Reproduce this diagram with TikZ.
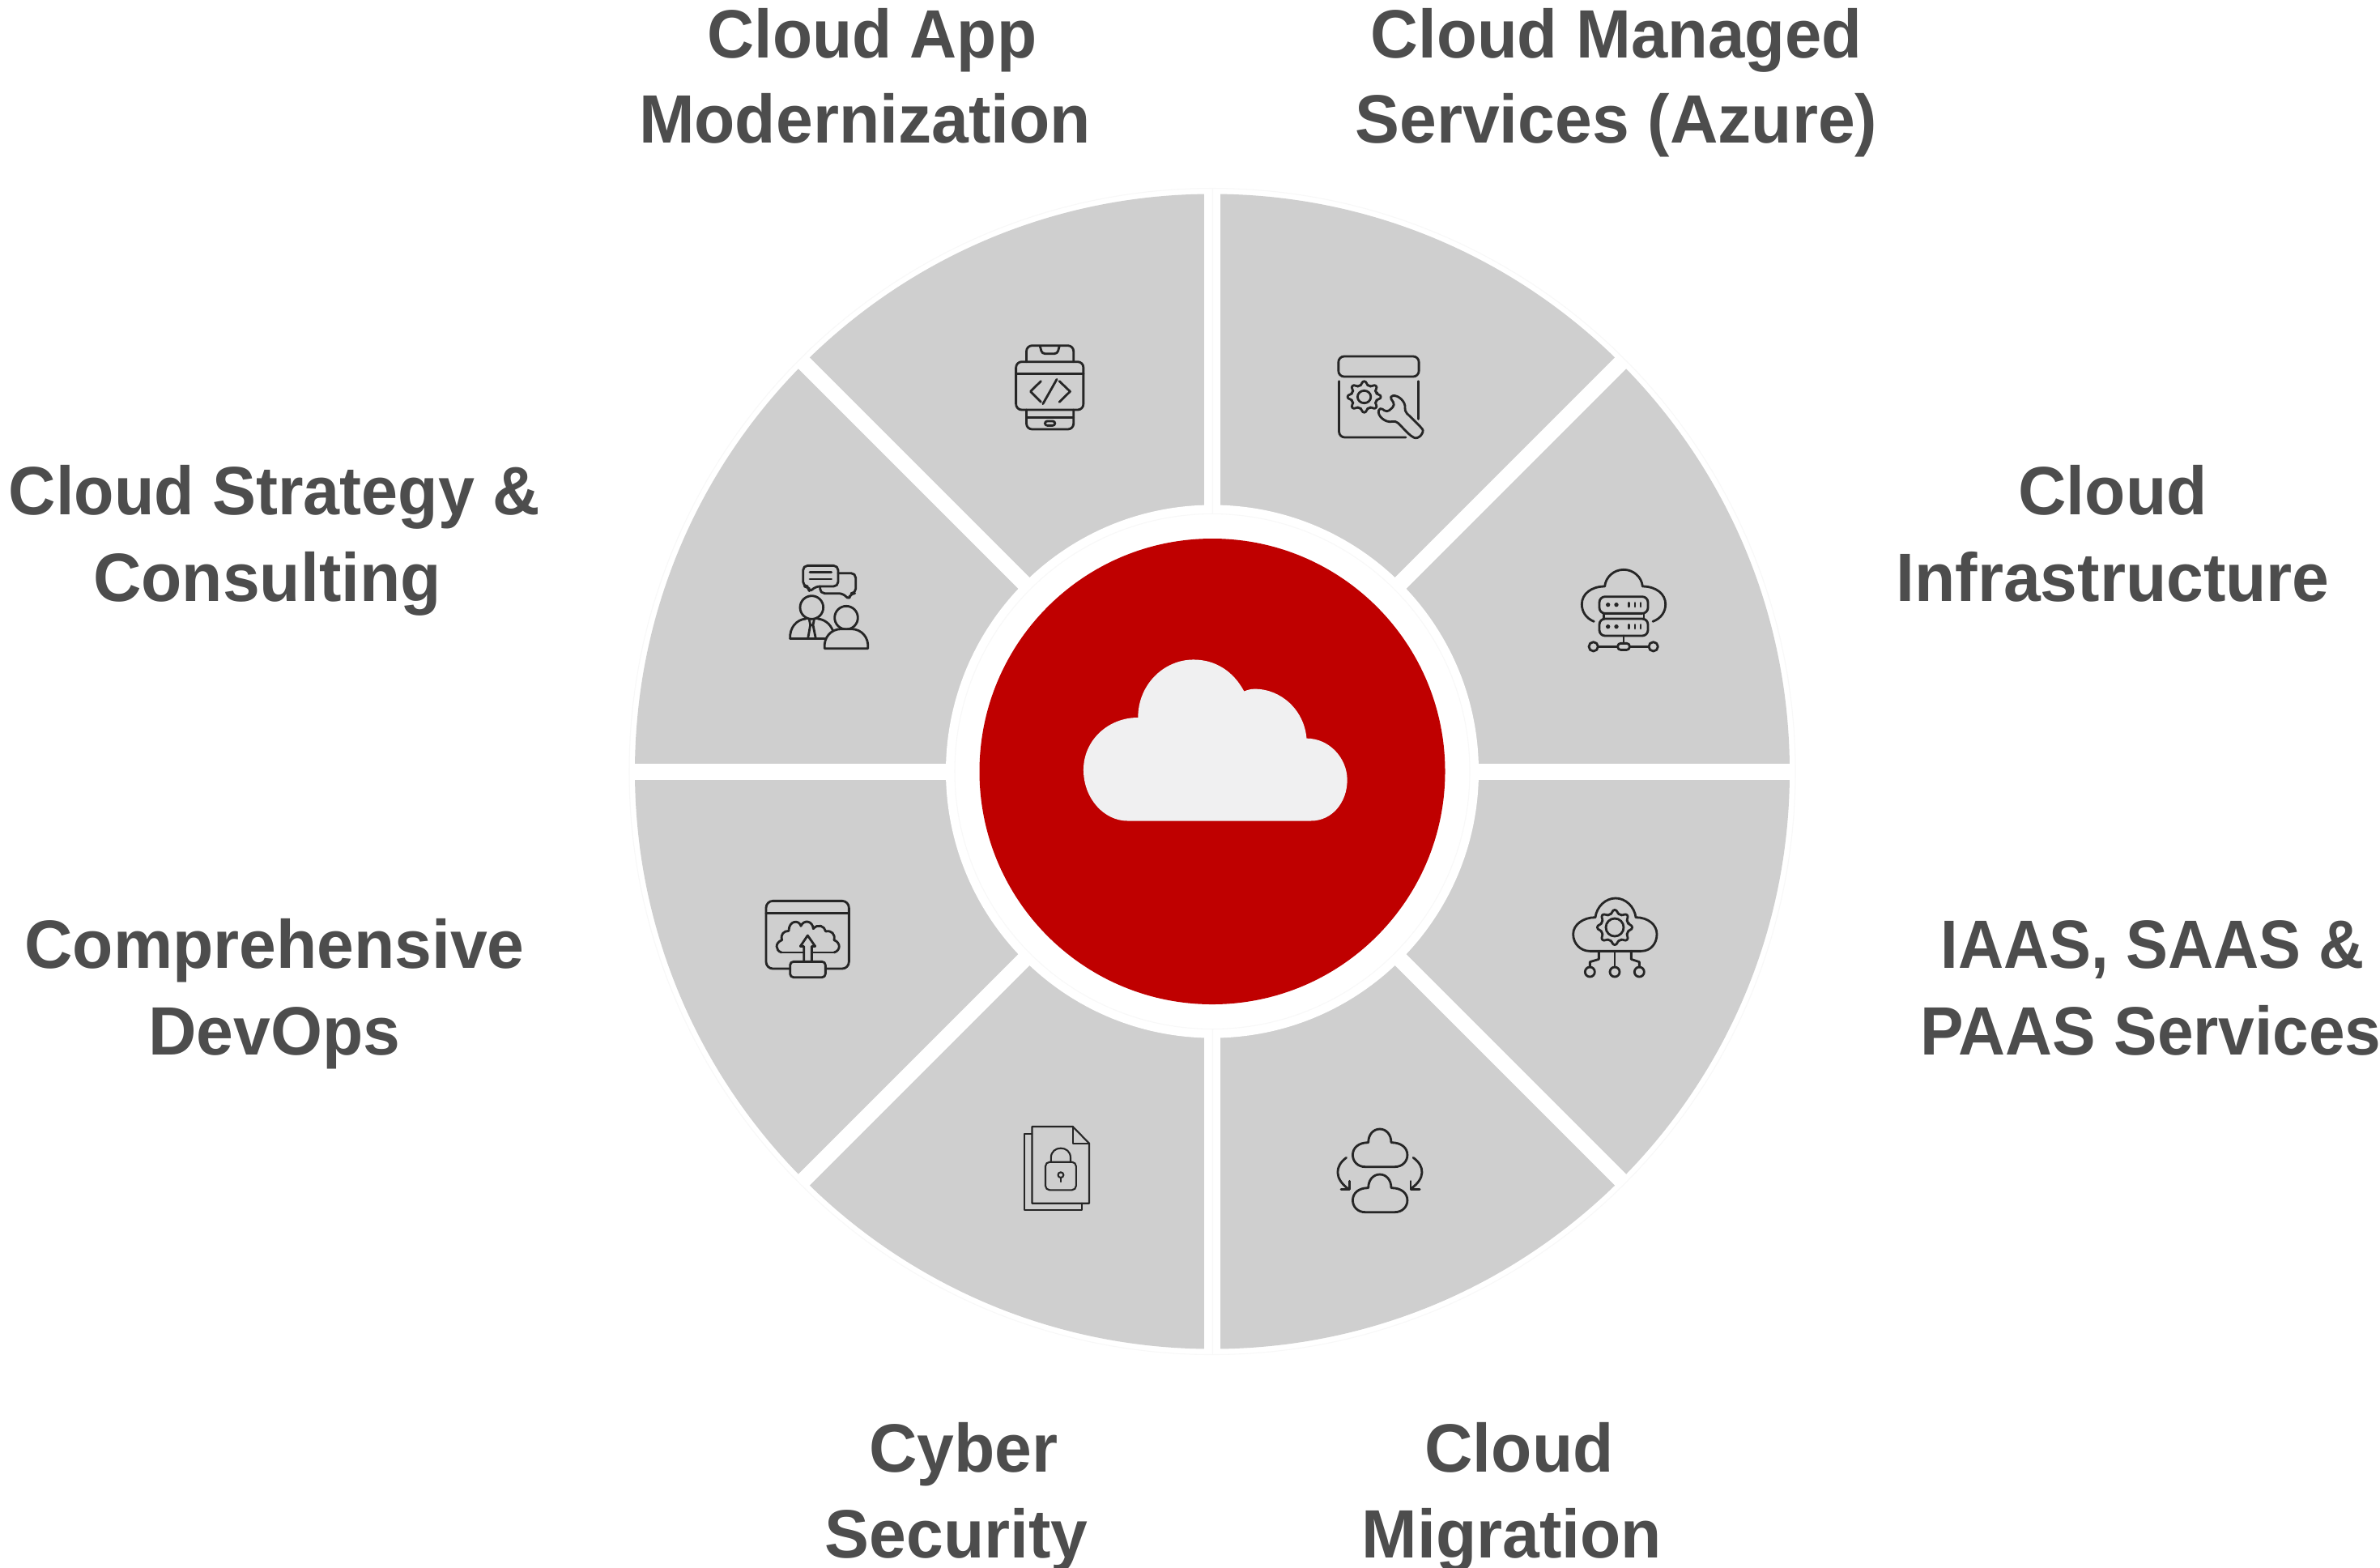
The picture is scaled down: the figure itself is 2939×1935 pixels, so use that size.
\documentclass[tikz,border=0pt]{standalone}
\usepackage{fontspec}
\setmainfont[FakeStretch=0.975]{Liberation Sans}
\definecolor{seg}{HTML}{CFCFCF}
\definecolor{redc}{HTML}{BF0000}
\definecolor{cloudc}{HTML}{F0F0F1}
\definecolor{labelc}{HTML}{4D4D4D}
\definecolor{inkc}{HTML}{262626}
\definecolor{faintc}{HTML}{F8F8F8}
\newcommand{\gearpath}[3]{% radii #1 outer, #2 base, #3 hole
  \draw[rounded corners=0.7pt] (-11.25:#2)
    \foreach \k in {0,45,...,315}{ -- ({\k-11.25}:#2) -- ({\k-7}:#1) -- ({\k+7}:#1) -- ({\k+11.25}:#2) -- ({\k+22.5}:#2)} -- cycle;
  \draw (0,0) circle[radius=#3];}
\tikzset{
  lab/.style={font=\bfseries\fontsize{24}{30}\selectfont,text=labelc,anchor=base,inner sep=0pt},
  icon/.style={draw=inkc,line width=0.8pt,line cap=round,line join=round},
  thinicon/.style={draw=inkc,line width=0.6pt,line cap=round,line join=round},
}
\begin{document}
\begin{tikzpicture}[x=0.01cm,y=-0.01cm]
\useasboundingbox (0,0) rectangle (2939,1935);
\fill[white] (0,0) rectangle (2939,1935);
% wheel
\fill[seg] (1497,952.5) circle[radius=713];
\draw[white,line width=19.6*0.2845pt] (1497,220) -- (1497,1684) (765,953) -- (2229,953)
  (980,435.5) -- (2014,1469.5) (980,1469.5) -- (2014,435.5);
\fill[white] (1497,952.5) circle[radius=329];
% faint hairlines left in the white gaps
\draw[faintc,line width=0.3pt] (1497,952.5) circle[radius=720] (1497,952.5) circle[radius=318]
  (1497.5,233) -- (1497.5,634) (1497.5,1271) -- (1497.5,1672);
\fill[redc] (1497,952.5) circle[radius=287.5];
% centre cloud
\begin{scope}[shift={(1180,620)},xscale=1/2.45,yscale=1/2.376]
\fill[cloudc] (520,935) -- (1075,935) .. controls (1140,935) and (1185,880) .. (1185,815)
  .. controls (1185,750) and (1130,693) .. (1062,693)
  .. controls (1055,610) and (985,548) .. (905,548)
  .. controls (895,548) and (885,550) .. (873,555)
  .. controls (840,495) and (785,462) .. (720,462)
  .. controls (630,462) and (552,535) .. (552,632)
  .. controls (460,632) and (387,700) .. (387,785)
  .. controls (387,870) and (450,935) .. (520,935) -- cycle;
\end{scope}
% icons in upper row
\begin{scope}[shift={(1220,400)},xscale=1/2.8,yscale=1/3,every path/.append style={icon}]
\draw[rounded corners=2pt] (97,140) rectangle (330,318);
\draw (97,185) -- (330,185);
\draw (183,212) -- (147,250) -- (183,289);
\draw (238,205) -- (190,296);
\draw (247,212) -- (284,250) -- (247,289);
\draw[rounded corners=2pt] (133,140) -- (133,80) -- (296,80) -- (296,140);
\draw[rounded corners=1pt] (180,82) -- (187,110) -- (240,110) -- (247,82);
\draw[rounded corners=2pt] (133,318) -- (133,390) -- (296,390) -- (296,318);
\draw (133,347) -- (296,347);
\draw[rounded corners=0.8pt] (197,360) rectangle (232,376);
% settings window
\draw[rounded corners=2pt] (1212,195) -- (1212,120) -- (1490,120) -- (1490,195) -- cycle;
\draw[rounded corners=2pt] (1214,212) -- (1214,420) -- (1445,420);
\draw (1489,212) -- (1489,352);
\draw[fill=seg,rounded corners=1.2pt] (1388,268) .. controls (1420,262) and (1445,290) .. (1440,322)
  -- (1495,380) .. controls (1510,400) and (1490,430) .. (1462,415)
  -- (1410,358) .. controls (1375,368) and (1345,340) .. (1355,308)
  -- (1380,328) -- (1408,300) -- cycle;
\begin{scope}[shift={(1301,270)}]
\gearpath{58}{45}{23}
\end{scope}
\end{scope}
% people
\begin{scope}[shift={(950,680)},scale=1/3,every path/.append style={icon}]
\draw[rounded corners=1.6pt] (147,132) -- (125,132) -- (125,55) -- (255,55) -- (255,132) -- (170,132) -- (148,155) -- cycle;
\draw[rounded corners=1.6pt] (255,83) -- (320,83) -- (320,158) -- (300,158) -- (295,183) -- (275,158) -- (188,158) -- (188,132);
\draw (150,80) -- (230,80) (150,105) -- (230,105);
\draw (157,210) circle[radius=43];
\draw (77,325) .. controls (75,285) and (100,255) .. (135,252);
\draw (180,252) .. controls (205,255) and (225,270) .. (235,295);
\draw (77,325) -- (205,325);
\draw (135,252) -- (180,252);
\draw (148,255) -- (152,275) -- (143,325) (166,255) -- (162,275) -- (172,325) (152,275) -- (162,275);
\draw (285,248) circle[radius=43];
\draw[fill=seg] (205,362) .. controls (200,320) and (230,290) .. (265,290) -- (305,290) .. controls (340,290) and (370,320) .. (365,362) -- cycle;
\end{scope}
% cloud server
\begin{scope}[shift={(1930,680)},scale=1/3,every path/.append style={icon}]
\draw (115,262) .. controls (85,250) and (70,225) .. (70,198) .. controls (70,160) and (105,132) .. (155,132)
  .. controls (158,98) and (188,70) .. (225,70) .. controls (262,70) and (292,98) .. (295,132)
  .. controls (345,132) and (380,160) .. (380,198) .. controls (380,225) and (365,250) .. (333,262);
\draw[rounded corners=2pt] (135,170) rectangle (315,232);
\draw[rounded corners=2pt] (135,252) rectangle (315,315);
\draw (152,232) -- (152,252) (300,232) -- (300,252);
\foreach \yy in {200,281}{
  \fill[inkc,draw=none] (167,\yy) circle[radius=8] (198,\yy) circle[radius=8];
  \draw (245,\yy-7) -- (245,\yy+7) (267,\yy-7) -- (267,\yy+7) (288,\yy-7) -- (288,\yy+7);
}
\draw (225,315) -- (225,343);
\draw[rounded corners=1pt] (203,343) rectangle (247,367);
\draw (130,355) -- (203,355) (247,355) -- (318,355);
\draw (113,355) circle[radius=17] (335,355) circle[radius=17];
\end{scope}
% upload window
\begin{scope}[shift={(920,1090)},scale=1/3,every path/.append style={icon}]
\draw[rounded corners=2.4pt] (167,318) -- (78,318) -- (78,67) -- (385,67) -- (385,318) -- (298,318);
\draw (78,113) -- (385,113);
\draw (135,258) -- (330,258);
\draw (135,258) .. controls (112,250) and (110,222) .. (137,212)
  .. controls (130,190) and (145,178) .. (162,178)
  .. controls (162,140) and (200,135) .. (207,160)
  .. controls (218,135) and (250,140) .. (253,170)
  .. controls (270,150) and (295,160) .. (299,180)
  .. controls (320,175) and (335,190) .. (330,212)
  .. controls (355,222) and (355,250) .. (330,258);
\draw[fill=seg] (218,292) -- (218,235) -- (205,235) -- (232,195) -- (260,235) -- (247,235) -- (247,292);
\draw[rounded corners=1.2pt] (167,292) rectangle (298,350);
\end{scope}
% cloud gear
\begin{scope}[shift={(1920,1090)},scale=1/3,every path/.append style={icon}]
\draw (130,253) -- (320,253) .. controls (355,253) and (378,225) .. (378,190)
  .. controls (378,155) and (345,128) .. (300,128)
  .. controls (295,88) and (262,57) .. (225,57)
  .. controls (188,57) and (155,88) .. (150,128)
  .. controls (105,128) and (68,155) .. (68,190)
  .. controls (68,225) and (95,253) .. (130,253);
\begin{scope}[shift={(222,165)}]
\gearpath{65}{52}{33}
\end{scope}
\draw (222,253) -- (222,312);
\draw (222,330) circle[radius=18] (130,330) circle[radius=18] (313,330) circle[radius=18];
\draw (163,253) -- (163,283) -- (130,293) -- (130,312);
\draw (283,253) -- (283,283) -- (313,293) -- (313,312);
\end{scope}
% lock files + migration
\begin{scope}[shift={(1240,1370)},xscale=1/2.904,yscale=1/3,every path/.append style={thinicon}]
\draw (100,90) -- (73,90) -- (73,373) -- (280,373) -- (280,347);
\draw (100,63) -- (246,63) -- (305,125) -- (305,347) -- (100,347) -- cycle;
\draw (246,63) -- (246,125) -- (305,125);
\draw[rounded corners=1.5pt] (148,194) rectangle (258,298);
\draw (168,194) -- (168,178) .. controls (168,155) and (185,143) .. (203,143) .. controls (221,143) and (238,155) .. (238,178) -- (238,194);
\draw (203,242) circle[radius=10];
\draw (203,252) -- (203,267);
\foreach \dy in {0,168}{
\begin{scope}[shift={(0,\dy)}]
\draw[icon] (1295,212) -- (1400,212) .. controls (1428,212) and (1446,192) .. (1446,168)
  .. controls (1446,142) and (1425,122) .. (1388,122)
  .. controls (1388,92) and (1370,72) .. (1347,72)
  .. controls (1324,72) and (1306,92) .. (1306,122)
  .. controls (1270,122) and (1250,142) .. (1250,168)
  .. controls (1250,192) and (1268,212) .. (1295,212) -- cycle;
\end{scope}}
\draw[icon] (1227,178) .. controls (1185,210) and (1185,255) .. (1232,292);
\draw[icon] (1238,265) -- (1238,296) -- (1208,296);
\draw[icon] (1467,178) .. controls (1510,210) and (1510,255) .. (1460,292);
\draw[icon] (1458,265) -- (1458,296) -- (1490,296);
\end{scope}
% labels
\node[lab] (l1a) at (1077,71) {\scalebox{0.977}[1]{Cloud App}};
\node[lab] (l1b) at (1068,176) {Modernization};
\node[lab] (l2a) at (1996,71) {\scalebox{0.99}[1]{Cloud Managed}};
\node[lab] (l2b) at (1996,176) {Services (Azure)};
\node[lab] (l3a) at (339,635) {\scalebox{0.983}[1]{Cloud Strategy \&}};
\node[lab] (l3b) at (330,742) {Consulting};
\node[lab] (l4a) at (2609,635) {Cloud};
\node[lab] (l4b) at (2609,742) {Infrastructure};
\node[lab] (l5a) at (339,1195) {Comprehensive};
\node[lab] (l5b) at (339,1302) {DevOps};
\node[lab] (l6a) at (2658,1195) {\scalebox{0.945}[1]{IAAS, SAAS \&}};
\node[lab] (l6b) at (2656,1302) {\scalebox{0.975}[1]{PAAS Services}};
\node[lab] (l7a) at (1190,1817) {Cyber};
\node[lab] (l7b) at (1181,1923) {Security};
\node[lab] (l8a) at (1876,1817) {Cloud};
\node[lab] (l8b) at (1867,1923) {Migration};
\end{tikzpicture}
\end{document}
